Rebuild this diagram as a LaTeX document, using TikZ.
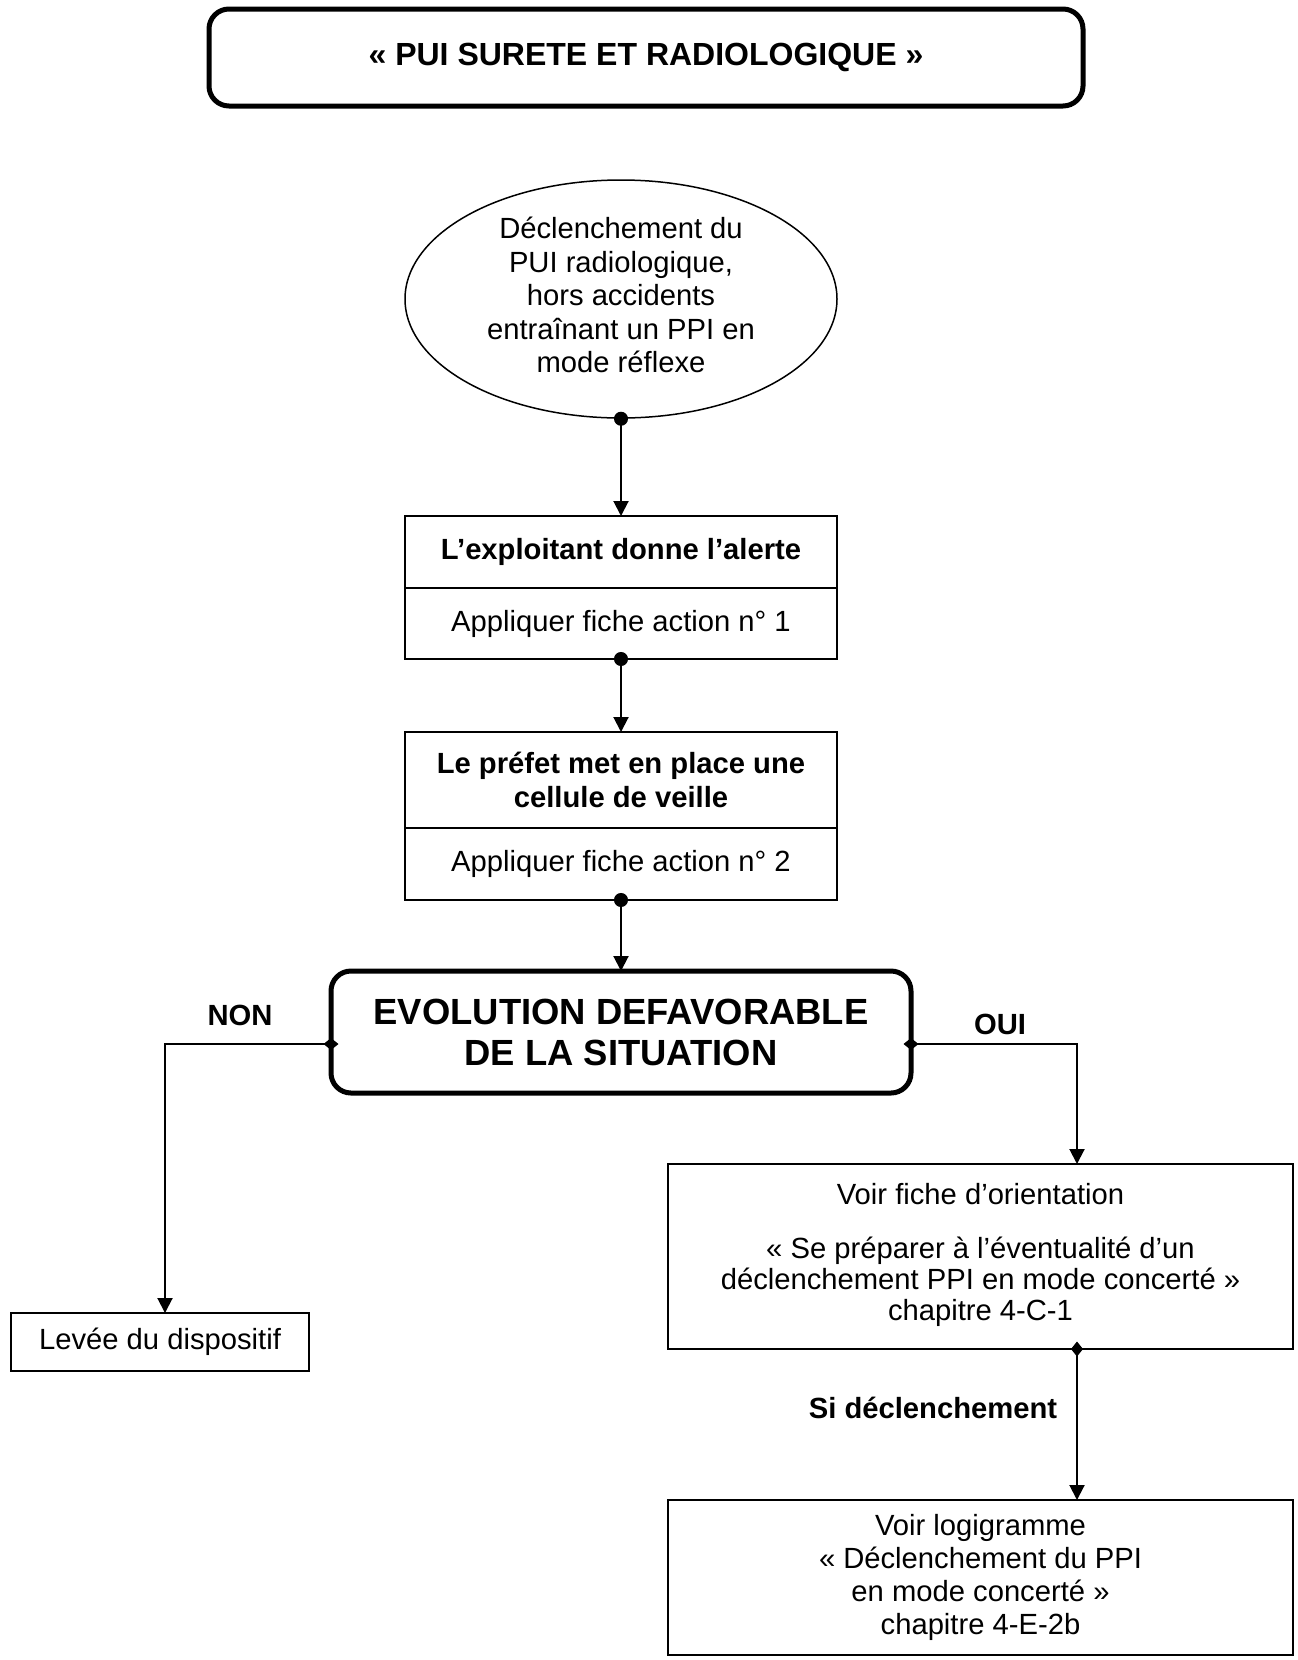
\documentclass[tikz,border=0pt]{standalone}
\usepackage{fontspec}
\setmainfont{Liberation Sans}
\usetikzlibrary{shapes.geometric,arrows.meta,calc}

\begin{document}
\begin{tikzpicture}[x={(1pt,0pt)}, y={(0pt,-1pt)},
  txt/.style={font=\fontsize{29.2}{33.5}\selectfont, align=center},
  btxt/.style={font=\fontsize{29.2}{33.5}\selectfont\bfseries, align=center},
  cell/.style={draw, line width=2.5pt, minimum width=432pt, inner sep=0pt, outer sep=0pt},
  framebox/.style={draw, line width=2.5pt, inner sep=0pt, outer sep=0pt, txt},
  headline/.style={draw, line width=5pt, rounded corners=20pt, inner sep=0pt, outer sep=0pt, align=center},
  dotflow/.style={line width=2pt, {Circle[length=14pt]}-{Triangle[length=15pt,width=15pt]}, shorten <=-7pt},
  diaflow/.style={line width=2pt, {Diamond[length=15pt,width=12pt]}-{Triangle[length=15pt,width=15pt]}, shorten <=-7.5pt},
  lbl/.style={btxt, inner sep=0pt}
]
\useasboundingbox (0,0) rectangle (1298,1660);
\fill[white] (0,0) rectangle (1298,1660);

% title banner
\node[headline, minimum width=874pt, minimum height=97pt,
      font=\fontsize{32}{36}\selectfont\bfseries] (title) at (646,57.5)
  {\raisebox{-4pt}{« PUI SURETE ET RADIOLOGIQUE »}};

% triggering event
\node[draw, ellipse, line width=1.5pt, minimum width=432pt, minimum height=238pt,
      inner sep=0pt, txt] (ell) at (621,299)
  {\raisebox{8pt}{\begin{tabular}{@{}c@{}}Déclenchement du\\PUI radiologique,\\hors accidents\\entraînant un PPI en\\mode réflexe\end{tabular}}};

% step 1
\node[cell, btxt, minimum height=72pt] (b1h) at (621,552) {L’exploitant donne l’alerte};
\node[cell, txt, minimum height=71pt] (b1b) at (621,623.5) {Appliquer fiche action n° 1};

% step 2
\node[cell, btxt, minimum height=96pt] (b2h) at (621,780) {Le préfet met en place une\\cellule de veille};
\node[cell, txt, minimum height=72pt] (b2b) at (621,864) {Appliquer fiche action n° 2};

% decision
\node[headline, minimum width=580pt, minimum height=122pt,
      font=\fontsize{36.4}{41}\selectfont\bfseries] (dec) at (621,1032)
  {EVOLUTION DEFAVORABLE\\DE LA SITUATION};

% outcomes
\node[framebox, minimum width=298pt, minimum height=58pt] (lev) at (160,1342) {Levée du dispositif};

\node[framebox, minimum width=625pt, minimum height=185pt,
      font=\fontsize{29.2}{31}\selectfont] (rb1) at (980.5,1256.5)
  {\raisebox{5pt}{\begin{tabular}{@{}c@{}}Voir fiche d’orientation\\[23pt]« Se préparer à l’éventualité d’un\\déclenchement PPI en mode concerté »\\chapitre 4-C-1\end{tabular}}};

\node[framebox, minimum width=625pt, minimum height=155pt,
      font=\fontsize{29.2}{33}\selectfont] (rb2) at (980.5,1577.5)
  {Voir logigramme\\« Déclenchement du PPI\\en mode concerté »\\chapitre 4-E-2b};

% branch labels
\node[lbl] (non) at (240,1015) {NON};
\node[lbl] (oui) at (1000,1024) {OUI};
\node[lbl] (sidec) at (933,1408) {Si déclenchement};

% connectors
\coordinate (nonK) at (165,1044);
\coordinate (ouiK) at (1077,1044);

\draw[dotflow] (ell.south) -- (b1h.north);
\draw[dotflow] (b1b.south) -- (b2h.north);
\draw[dotflow] (b2b.south) -- (dec.north);
\draw[diaflow] (dec.west |- nonK) -- (nonK) -- (nonK |- lev.north);
\draw[diaflow] (dec.east |- ouiK) -- (ouiK) -- (ouiK |- rb1.north);
\draw[diaflow] (ouiK |- rb1.south) -- (ouiK |- rb2.north);
\end{tikzpicture}
\end{document}
